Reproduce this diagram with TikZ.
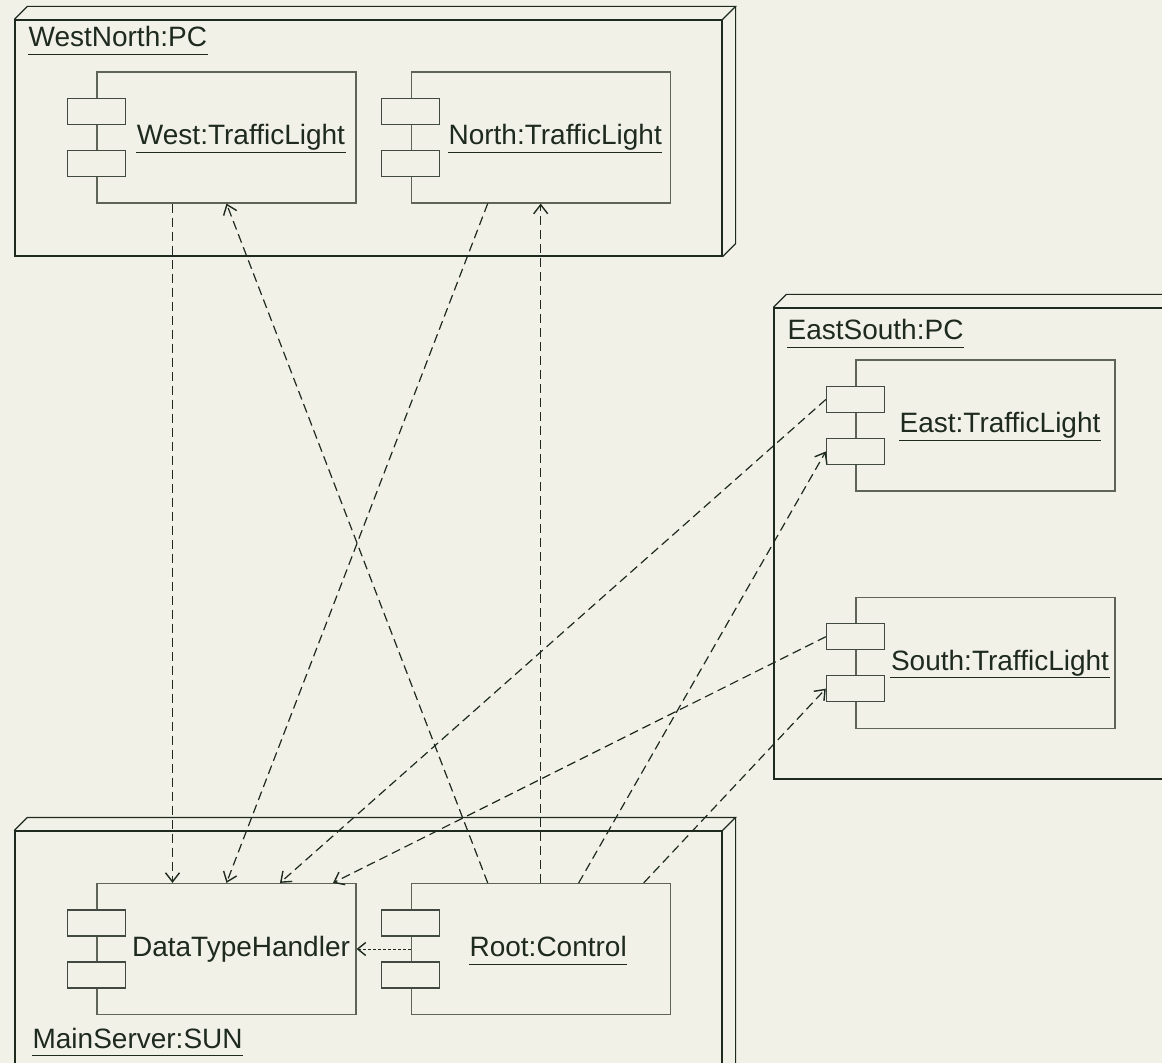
\documentclass[tikz,border=0pt]{standalone}
\usepackage{fontspec}
\setmainfont{Liberation Sans}
\usetikzlibrary{arrows.meta,positioning,calc}
\definecolor{umlBg}{HTML}{F2F1E7}
\definecolor{umlInk}{HTML}{1E2A1E}
\definecolor{umlGray}{HTML}{5E6456}

\begin{document}
\begin{tikzpicture}[x=0.5pt, y=-0.5pt, font=\fontsize{14pt}{16pt}\selectfont, color=umlInk, line width=0.6pt,
  pcnode/.style 2 args={draw=umlInk, fill=umlBg, minimum width=#1, minimum height=#2, inner sep=0pt},
  comp/.style={draw=umlGray, fill=umlBg, minimum width=129.5pt, minimum height=65.5pt, inner sep=0pt},
  port/.style={draw=umlInk!85, fill=umlBg, minimum width=29pt, minimum height=13pt, inner sep=0pt},
  uname/.style={inner sep=0pt, text depth=3.5pt, append after command={(\tikzlastnode.south west) edge[draw=umlInk] (\tikzlastnode.south east)}},
  dep/.style={-{Straight Barb[length=4.5pt, width=7pt, line width=0.7pt]}, dash pattern=on 4.5pt off 2.5pt},
  sdep/.style={-{Straight Barb[length=4pt, width=6.5pt, line width=0.7pt]}, dash pattern=on 1.5pt off 1pt, line width=0.45pt}
]
\useasboundingbox (0,0) rectangle (1162,1063);
\clip (0,0) rectangle (1162,1063);
\fill[umlBg] (0,0) rectangle (1162,1063);
% deployment nodes
\node[pcnode={353.5pt}{118pt}]   (wn) at (368.5,138) {};
\node[pcnode={213pt}{235.5pt}]   (es) at (987,543.5) {};
\node[pcnode={353.5pt}{129.5pt}] (ms) at (368.5,960.5) {};
\foreach \n in {wn,es,ms} {
  \draw (\n.north west) -- ++(6.5pt,6.5pt) -- ([shift={(6.5pt,6.5pt)}]\n.north east) -- (\n.north east)
        ([shift={(6.5pt,6.5pt)}]\n.north east) -- ([shift={(6.5pt,6.5pt)}]\n.south east) -- (\n.south east);
}
\node[uname, anchor=base west] (wnname) at (28,47)    {WestNorth:PC};
\node[uname, anchor=base west] (esname) at (787,340)  {EastSouth:PC};
\node[uname, anchor=base west] (msname) at (32,1048)  {MainServer:SUN};
% components
\node[comp] (west) at (226.5,137.5) {};
\node[comp, right=27pt of west] (north) {};
\node[comp] (east) at (985.5,425.5) {};
\node[comp, below=52.5pt of east] (south) {};
\node[comp] (dth) at (226.5,949) {};
\node[comp, right=27pt of dth] (root) {};
\foreach \c in {west,north,east,south,dth,root} {
  \node[port] (\c1) at ([yshift=13pt]\c.west) {};
  \node[port] (\c2) at ([yshift=-13pt]\c.west) {};
}
\foreach \c/\t/\dx in {west/West:TrafficLight/7.25, north/North:TrafficLight/7.25, east/East:TrafficLight/7.25,
                       south/South:TrafficLight/7.25, root/Root:Control/3.75} {
  \node[uname, anchor=base] (\c name) at ([xshift=\dx pt, yshift=-3.75pt]\c.center) {\t};
}
\node[inner sep=0pt, anchor=base] (dthname) at ([xshift=7.25pt, yshift=-3.75pt]dth.center) {DataTypeHandler};
% dependencies
\draw[dep] ([xshift=-27pt]west.south) -- ([xshift=-27pt]dth.north);
\draw[dep] ([xshift=-26.5pt]north.south) -- (dth.north);
\draw[dep] ([xshift=-26.5pt]root.north) -- (west.south);
\draw[dep] (root.north) -- (north.south);
\draw[dep] (east1.west) -- ([xshift=26.75pt]dth.north);
\draw[dep] (south1.west) -- ([xshift=53.25pt]dth.north);
\draw[dep] ([xshift=19pt]root.north) -- (east2.west);
\draw[dep] ([xshift=51.5pt]root.north) -- (south2.west);
\draw[sdep] (root.west) -- (dth.east);
\end{tikzpicture}
\end{document}
